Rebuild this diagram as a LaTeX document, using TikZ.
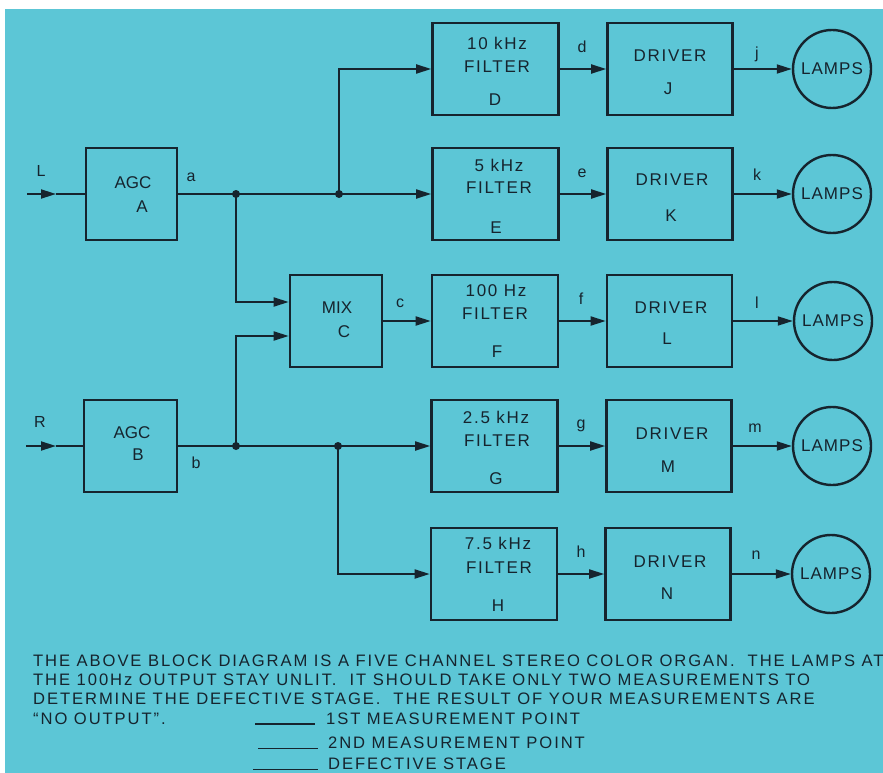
\documentclass[tikz,border=0pt]{standalone}
\usepackage{fontspec}
\setmainfont{Liberation Sans}
\newfontfamily\spacedfont[LetterSpace=10]{Liberation Sans}
\newfontfamily\lampfont[LetterSpace=6]{Liberation Sans}
\newfontfamily\bodyfont[LetterSpace=11.5]{Liberation Sans}
\usetikzlibrary{arrows.meta}
\definecolor{bgc}{RGB}{92,198,214}
\definecolor{ink}{RGB}{22,36,46}
\tikzset{
  fbox/.style={draw=ink,line width=2.6pt,minimum width=126pt,minimum height=92pt,inner sep=0pt},
  dbox/.style={draw=ink,line width=2.6pt,minimum width=125pt,minimum height=92pt,inner sep=0pt},
  abox/.style={draw=ink,line width=2.6pt,minimum width=92pt,minimum height=92pt,inner sep=0pt},
  lamp/.style={draw=ink,circle,line width=2.4pt,minimum size=78pt,inner sep=0pt,
    font=\lampfont\fontsize{17}{20}\selectfont,text=ink},
  wire/.style={draw=ink,line width=1.8pt},
  arr/.style={-{Triangle[length=15pt,width=9pt]}},
  btxt/.style={font=\spacedfont\fontsize{17}{20}\selectfont,text=ink,inner sep=0pt},
  ptxt/.style={font=\fontsize{17}{20}\selectfont,text=ink,inner sep=0pt},
  lbl/.style={font=\fontsize{16}{19}\selectfont,text=ink,inner sep=0pt},
  note/.style={font=\bodyfont\fontsize{16.6}{19}\selectfont,text=ink,inner sep=0pt,anchor=base west},
  blank/.style={draw=ink,line width=1.3pt}
}
\begin{document}
\begin{tikzpicture}[x=1pt,y=-1pt]
\useasboundingbox (0,0) rectangle (883,773);
\fill[white] (0,0) rectangle (883,773);
\fill[bgc] (5,9) rectangle (883,773);
\begin{scope}
\clip (5,9) rectangle (883,773);

% ---- blocks ----
\node[abox,minimum width=91pt] (A) at (131.5,194) {};
\node[abox,minimum width=93pt] (B) at (130.5,446) {};
\node[abox] (C) at (336,321) {};
\node[fbox] (D) at (495.5,69) {};
\node[fbox] (E) at (495.5,194) {};
\node[fbox] (F) at (495,321) {};
\node[fbox] (G) at (494.5,446) {};
\node[fbox] (H) at (494,574) {};
\node[dbox] (J) at (670,69) {};
\node[dbox] (K) at (670,194) {};
\node[dbox] (Ld) at (669.5,321) {};
\node[dbox] (M) at (669,446) {};
\node[dbox] (N) at (668,574) {};
\node[lamp] (PJ) at (832,69) {LAMPS};
\node[lamp] (PK) at (832,194) {LAMPS};
\node[lamp] (PL) at (833,321) {LAMPS};
\node[lamp] (PM) at (832,446) {LAMPS};
\node[lamp] (PN) at (831,574) {LAMPS};

% ---- block texts ----
\node[ptxt] (At1) at (133,183) {AGC};
\node[ptxt] (At2) at (142,207) {A};
\node[ptxt] (Bt1) at (132,433) {AGC};
\node[ptxt] (Bt2) at (138,455) {B};
\node[ptxt] (Ct1) at (337,308) {MIX};
\node[ptxt] (Ct2) at (344,332) {C};

\node[btxt] (Dt1) at (497,43) {10 kHz};
\node[btxt] (Dt2) at (497,67) {FILTER};
\node[btxt] (Dt3) at (495,100) {D};
\node[btxt] (Et1) at (499,165) {5 kHz};
\node[btxt] (Et2) at (499,188) {FILTER};
\node[btxt] (Et3) at (496,228) {E};
\node[btxt] (Ft1) at (496,291) {100 Hz};
\node[btxt] (Ft2) at (495,314) {FILTER};
\node[btxt] (Ft3) at (497,352) {F};
\node[btxt] (Gt1) at (496,417) {2.5 kHz};
\node[btxt] (Gt2) at (497,441) {FILTER};
\node[btxt] (Gt3) at (496,479) {G};
\node[btxt] (Ht1) at (498,543) {7.5 kHz};
\node[btxt] (Ht2) at (499,568) {FILTER};
\node[btxt] (Ht3) at (498,606) {H};

\node[btxt] (Jt1) at (670,56) {DRIVER};
\node[btxt] (Jt2) at (668,89) {J};
\node[btxt] (Kt1) at (672,180) {DRIVER};
\node[btxt] (Kt2) at (671,216) {K};
\node[btxt] (Lt1) at (671,308) {DRIVER};
\node[btxt] (Lt2) at (667,339) {L};
\node[btxt] (Mt1) at (672,434) {DRIVER};
\node[btxt] (Mt2) at (668,467) {M};
\node[btxt] (Nt1) at (670,562) {DRIVER};
\node[btxt] (Nt2) at (667,594) {N};

% ---- junctions ----
\coordinate (ja) at (236,194);
\coordinate (jd) at (339,194);
\coordinate (jb) at (236,446);
\coordinate (jg) at (338,446);
\coordinate (Lin) at (27,194);
\coordinate (Lmid) at (56,194);
\coordinate (Rin) at (26,446);
\coordinate (Rmid) at (56,446);

% ---- wires ----
\draw[wire,arr] (Lin) -- (Lmid);
\draw[wire] (Lmid) -- (A.west);
\draw[wire,arr] (Rin) -- (Rmid);
\draw[wire] (Rmid) -- (B.west);

\draw[wire] (A.east) -- (ja) -- (jd);
\draw[wire,arr] (jd) -- (E.west);
\draw[wire,arr] (jd) |- (D.west);
\draw[wire,arr] (ja) |- ([yshift=19pt]C.west);

\draw[wire] (B.east) -- (jb) -- (jg);
\draw[wire,arr] (jg) -- (G.west);
\draw[wire,arr] (jg) |- (H.west);
\draw[wire,arr] (jb) |- ([yshift=-15pt]C.west);

\draw[wire,arr] (C.east) -- (F.west);

\draw[wire,arr] (D.east) -- (J.west);
\draw[wire,arr] (E.east) -- (K.west);
\draw[wire,arr] (F.east) -- (Ld.west);
\draw[wire,arr] (G.east) -- (M.west);
\draw[wire,arr] (H.east) -- (N.west);

\draw[wire,arr] (J.east) -- (PJ.west);
\draw[wire,arr] (K.east) -- (PK.west);
\draw[wire,arr] (Ld.east) -- (PL.west);
\draw[wire,arr] (M.east) -- (PM.west);
\draw[wire,arr] (N.east) -- (PN.west);

\foreach \p in {ja,jd,jb,jg} \fill[ink] (\p) circle (4pt);

% ---- signal labels ----
\node[lbl] (lL) at (41,171) {L};
\node[lbl] (lR) at (40,422) {R};
\node[lbl] (la) at (191,177) {a};
\node[lbl] (lb) at (196,463) {b};
\node[lbl] (lc) at (400,303) {c};
\node[lbl] (ld) at (582,47) {d};
\node[lbl] (le) at (582,173) {e};
\node[lbl] (lf) at (581,299) {f};
\node[lbl] (lg) at (581,426) {g};
\node[lbl] (lh) at (581,552) {h};
\node[lbl] (lj) at (757,54) {j};
\node[lbl] (lk) at (757,175) {k};
\node[lbl] (ll) at (757,303) {l};
\node[lbl] (lm) at (755,428) {m};
\node[lbl] (ln) at (756,555) {n};

% ---- question text ----
\node[note] (q1) at (33,666.5) {THE ABOVE BLOCK DIAGRAM IS A FIVE CHANNEL STEREO COLOR ORGAN.\ \ THE LAMPS AT};
\node[note] (q2) at (33,685.5) {THE 100Hz OUTPUT STAY UNLIT.\ \ IT SHOULD TAKE ONLY TWO MEASUREMENTS TO};
\node[note] (q3) at (33,704.5) {DETERMINE THE DEFECTIVE STAGE.\ \ THE RESULT OF YOUR MEASUREMENTS ARE};
\node[note] (q4) at (33,724) {“NO OUTPUT”.};
\node[note] (q5) at (326,724) {1ST MEASUREMENT POINT};
\node[note] (q6) at (328,748.5) {2ND MEASUREMENT POINT};
\node[note] (q7) at (328,769.5) {DEFECTIVE STAGE};
\draw[blank] (255,724) -- (315,724);
\draw[blank] (258,748.5) -- (318,748.5);
\draw[blank] (253,769.5) -- (318,769.5);
\end{scope}
\end{tikzpicture}
\end{document}
